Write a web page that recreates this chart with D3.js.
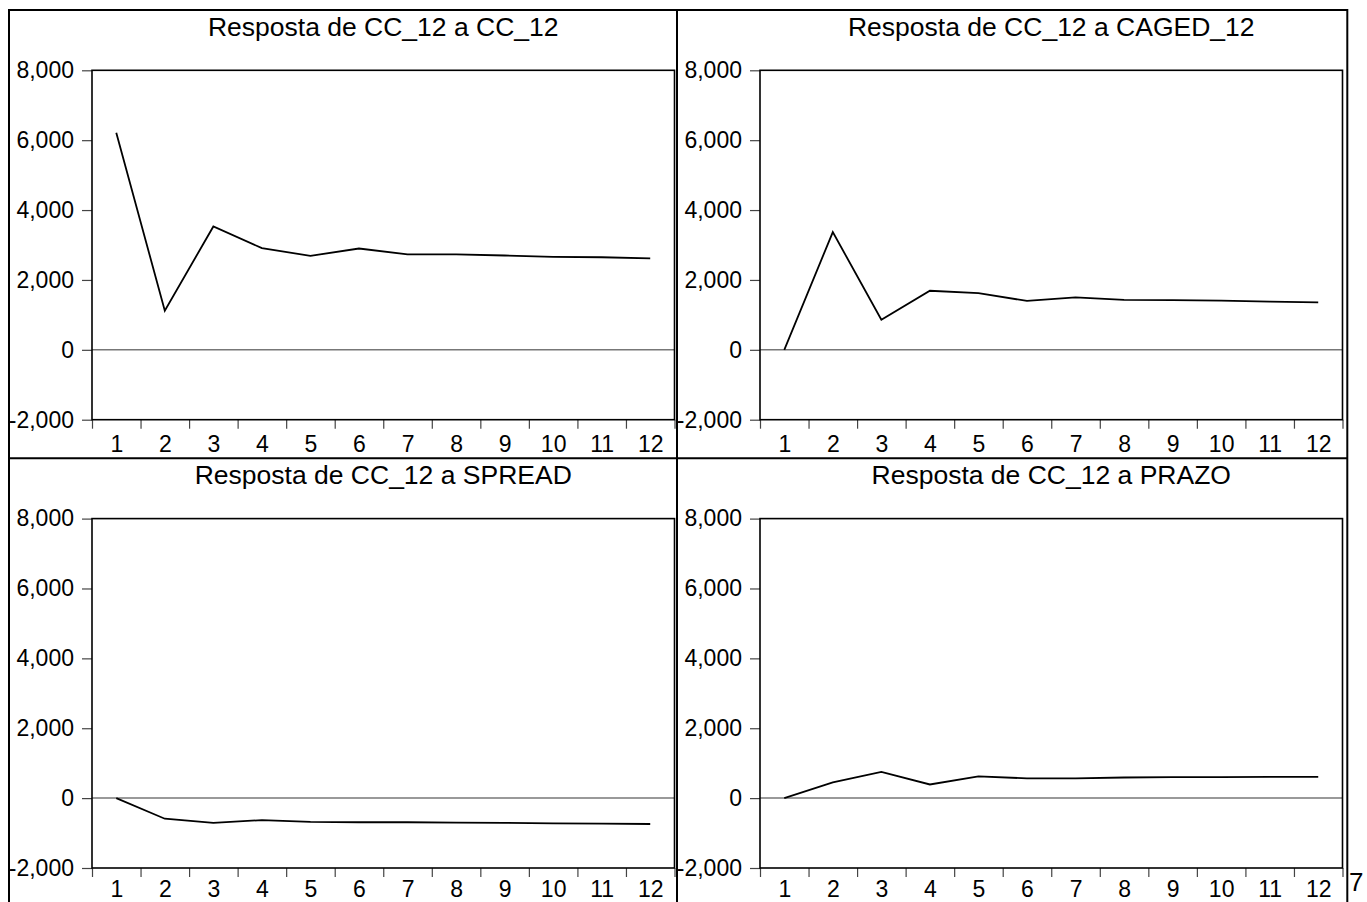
<!DOCTYPE html>
<html>
<head>
<meta charset="utf-8">
<script src="https://cdn.jsdelivr.net/npm/d3@7"></script>
<style>
  html, body { margin: 0; padding: 0; background: #fff; }
  svg { display: block; font-family: "Liberation Sans", Arial, sans-serif; }
</style>
</head>
<body>
<svg id="chart" width="1367" height="902"></svg>
<script>
// ---- data ----
const periods = [1, 2, 3, 4, 5, 6, 7, 8, 9, 10, 11, 12];
const titles = [
  "Resposta de CC_12 a CC_12",
  "Resposta de CC_12 a CAGED_12",
  "Resposta de CC_12 a SPREAD",
  "Resposta de CC_12 a PRAZO"
];
const respCC    = [6210, 1120, 3530, 2910, 2690, 2900, 2730, 2730, 2700, 2660, 2650, 2620];
const respCAGED = [0, 3370, 860, 1690, 1620, 1400, 1500, 1430, 1420, 1410, 1380, 1360];
const respSPREAD= [0, -590, -710, -630, -680, -690, -690, -700, -710, -720, -730, -740];
const respPRAZO = [0, 450, 750, 390, 620, 565, 565, 590, 600, 600, 610, 610];
const yTicks = [-2000, 0, 2000, 4000, 6000, 8000];
const yDomain = [-2000, 8000];
const pageNote = "7";

const series = [respCC, respCAGED, respSPREAD, respPRAZO];

// ---- layout ----
const svg = d3.select("#chart");
const panelX = [9, 677];
const panelY = [10, 458.3];
const plotOffX = 83, plotW = 582.5;
const plotOffY = 60.3, plotH = 349.4;

const fmtLocale = d3.formatLocale({decimal: ".", thousands: ",", grouping: [3], currency: ["$", ""], minus: "-"});
const fmt = fmtLocale.format(",");

series.forEach((vals, idx) => {
  const row = Math.floor(idx / 2);
  const px = panelX[idx % 2], py = panelY[row];
  const left = px + plotOffX, top = py + plotOffY;
  const x = d3.scaleLinear().domain([0.5, 12.5]).range([left, left + plotW]);
  const y = d3.scaleLinear().domain(yDomain).range([top + plotH, top]);
  const g = svg.append("g");

  // title
  g.append("text")
    .attr("x", left + plotW / 2)
    .attr("y", py + 26)
    .attr("text-anchor", "middle")
    .attr("font-size", 26.5)
    .attr("fill", "#000")
    .text(titles[idx]);

  // zero line
  g.append("line")
    .attr("x1", left).attr("x2", left + plotW)
    .attr("y1", y(0)).attr("y2", y(0))
    .attr("stroke", "#777").attr("stroke-width", 1.5);

  // y axis
  const ya = g.append("g")
    .attr("transform", `translate(${left},0)`)
    .call(d3.axisLeft(y).tickValues(yTicks).tickSize(10).tickPadding(8).tickFormat(fmt));
  ya.select(".domain").remove();
  ya.selectAll(".tick line").attr("stroke", "#444").attr("stroke-width", 1.2);
  ya.selectAll(".tick text").attr("font-size", 23).attr("fill", "#000")
    .attr("font-family", "Liberation Sans, Arial, sans-serif");

  // x axis ticks at boundaries
  const boundaries = d3.range(0, 13).map(i => i + 0.5);
  const xa = g.append("g")
    .attr("transform", `translate(0,${top + plotH})`)
    .call(d3.axisBottom(x).tickValues(boundaries).tickSize(9).tickFormat(""));
  xa.select(".domain").remove();
  xa.selectAll(".tick line").attr("stroke", "#444").attr("stroke-width", 1.2);

  // x labels at centers
  const xl = g.append("g")
    .attr("transform", `translate(0,${top + plotH})`)
    .call(d3.axisBottom(x).tickValues(periods).tickSize(0).tickPadding(row === 0 ? 16 : 13).tickFormat(d3.format("d")));
  xl.select(".domain").remove();
  xl.selectAll(".tick text").attr("font-size", 23).attr("fill", "#000")
    .attr("font-family", "Liberation Sans, Arial, sans-serif");

  // data line
  const line = d3.line().x((d, i) => x(periods[i])).y(d => y(d));
  g.append("path")
    .datum(vals)
    .attr("d", line)
    .attr("fill", "none")
    .attr("stroke", "#000")
    .attr("stroke-width", 1.8)
    .attr("stroke-linejoin", "miter");

  // plot frame
  g.append("rect")
    .attr("x", left).attr("y", top)
    .attr("width", plotW).attr("height", plotH)
    .attr("fill", "none").attr("stroke", "#000").attr("stroke-width", 1.6);
});

// outer frame and dividers
svg.append("rect")
  .attr("x", 9).attr("y", 10).attr("width", 1338.3).attr("height", 900)
  .attr("fill", "none").attr("stroke", "#000").attr("stroke-width", 2);
svg.append("line")
  .attr("x1", 677).attr("x2", 677).attr("y1", 10).attr("y2", 902)
  .attr("stroke", "#000").attr("stroke-width", 2);
svg.append("line")
  .attr("x1", 9).attr("x2", 1347.3).attr("y1", 458.3).attr("y2", 458.3)
  .attr("stroke", "#000").attr("stroke-width", 2);

svg.append("text")
  .attr("x", 1349).attr("y", 891)
  .attr("font-size", 26).attr("fill", "#000")
  .text(pageNote);
</script>
</body>
</html>
